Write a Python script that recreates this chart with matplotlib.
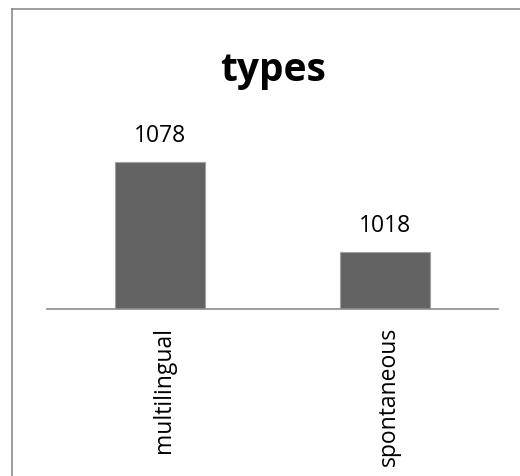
import matplotlib
matplotlib.use("Agg")
import matplotlib.pyplot as plt
from matplotlib.lines import Line2D
from matplotlib.transforms import ScaledTranslation

categories = ["multilingual", "spontaneous"]
values = [1078, 1018]
title = "types"

W, H = 520, 477
plt.rcParams["font.family"] = ["Open Sans", "DejaVu Sans"]

fig = plt.figure(figsize=(W / 100, H / 100), dpi=100)
fig.patch.set_facecolor("white")

# outer chart border (left + top visible)
fig.add_artist(Line2D([12 / W, 12 / W], [0, 1 - 10 / H], color="#8c8c8c", lw=1.2))
fig.add_artist(Line2D([12 / W, 1], [1 - 10 / H, 1 - 10 / H], color="#8c8c8c", lw=1.2))

ax = fig.add_axes([47 / W, 1 - 310 / H, (498 - 47) / W, (310 - 130) / H])
x = range(len(categories))
bars = ax.bar(x, values, width=0.4, color="#636363", edgecolor="#a0a0a0", linewidth=0.8)
ax.set_xlim(-0.5, 1.5)
ax.set_ylim(980, 1100)
for b, v in zip(bars, values):
    ax.annotate(str(v), (b.get_x() + b.get_width() / 2, v), xytext=(0, 11),
                textcoords="offset points", ha="center", va="bottom", fontsize=16.5)

for s in ["top", "right", "left"]:
    ax.spines[s].set_visible(False)
ax.spines["bottom"].set_color("#8c8c8c")
ax.spines["bottom"].set_linewidth(1.2)
ax.set_yticks([])
ax.set_xticks(list(x))
ax.set_xticklabels(categories, rotation=90, fontsize=16.5)
ax.tick_params(axis="x", length=0, pad=12)
shift = ScaledTranslation(4 / 100, 0, fig.dpi_scale_trans)
for t in ax.get_xticklabels():
    t.set_transform(t.get_transform() + shift)

fig.text(273 / W, 1 - 70 / H, title, ha="center", va="center", fontsize=28,
         fontweight="bold")

fig.savefig("out.png", dpi=100, facecolor="white")
